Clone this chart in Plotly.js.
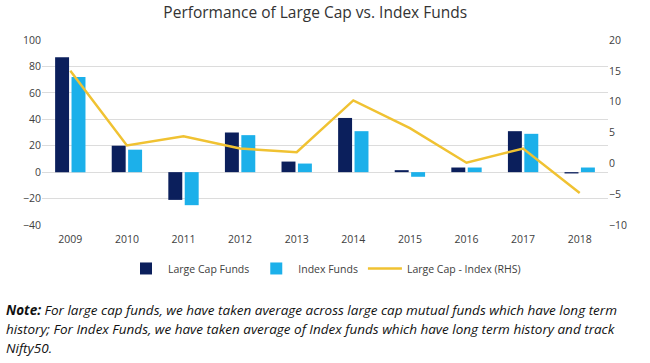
<!DOCTYPE html>
<html><head><meta charset="utf-8">
<script src="https://cdn.plot.ly/plotly-3.0.1.min.js"></script>
<style>html,body{margin:0;padding:0;background:#fff}#chart{width:650px;height:363px}</style>
</head><body><div id="chart"></div>
<script>
const years = ['2009','2010','2011','2012','2013','2014','2015','2016','2017','2018'];
const largeCap = [87, 20, -21, 30, 8, 41, 1.5, 3.5, 31, -1];
const indexFunds = [72, 17, -25, 28, 6.5, 31, -3.5, 3.5, 29, 3.5];
const diffRHS = [15.0, 2.9, 4.4, 2.4, 1.8, 10.2, 5.7, 0.1, 2.4, -4.8];
const leftTicks = [-40,-20,0,20,40,60,80,100];
const rightTicks = [-10,-5,0,5,10,15,20];
const noteLines = [
  '<b>Note:</b> For large cap funds, we have taken average across large cap mutual funds which have long term',
  'history; For Index Funds, we have taken average of Index funds which have long term history and track',
  'Nifty50.'
];

const font = 'Open Sans, Noto Sans, sans-serif';
const traces = [
  {type:'bar', name:'Large Cap Funds', x:years, y:largeCap, marker:{color:'#0b1f5c'}},
  {type:'bar', name:'Index Funds', x:years, y:indexFunds, marker:{color:'#1cb0ea'}},
  {type:'scatter', mode:'lines', name:'Large Cap - Index (RHS)', x:years, y:diffRHS, yaxis:'y2',
   line:{color:'#f0c232', width:2.5}}
];
const noteY = [-0.46, -0.562, -0.665];
const layout = {
  width:650, height:363,
  margin:{l:42, r:42, t:40, b:138},
  paper_bgcolor:'#fff', plot_bgcolor:'#fff',
  font:{family:font, color:'#404040', size:10},
  title:{text:'Performance of Large Cap vs. Index Funds', x:0.485, xanchor:'center', y:0.965, yanchor:'middle',
         font:{size:15.5, color:'#333', family:font}},
  barmode:'group', bargap:0.42, bargroupgap:0.15,
  showlegend:true,
  legend:{orientation:'h', x:0.5, xanchor:'center', y:-0.235, yanchor:'middle',
          font:{size:10.5, color:'#404040'}, traceorder:'normal', itemwidth:34},
  xaxis:{type:'category', tickfont:{size:10.5, color:'#404040'}, showgrid:false, showline:false, ticks:'', ticklabelstandoff:6},
  yaxis:{range:[-40,100], tickvals:leftTicks, showgrid:true, gridcolor:'#dcdcdc', gridwidth:1, zeroline:false,
         tickfont:{size:10.5, color:'#404040'}, ticks:'', showline:false},
  yaxis2:{range:[-10,20], tickvals:rightTicks, overlaying:'y', side:'right', showgrid:false, zeroline:false,
          tickfont:{size:10.5, color:'#404040'}, ticks:'', showline:false},
  annotations: noteLines.map((t, i) => ({xref:'paper', yref:'paper', x:-0.067, y:noteY[i], xanchor:'left', yanchor:'middle',
    align:'left', showarrow:false, text:t, font:{family:font, size:13.5, color:'#111', style:'italic'}}))
};
Plotly.newPlot('chart', traces, layout, {displayModeBar:false, staticPlot:true});
</script>
</body></html>
